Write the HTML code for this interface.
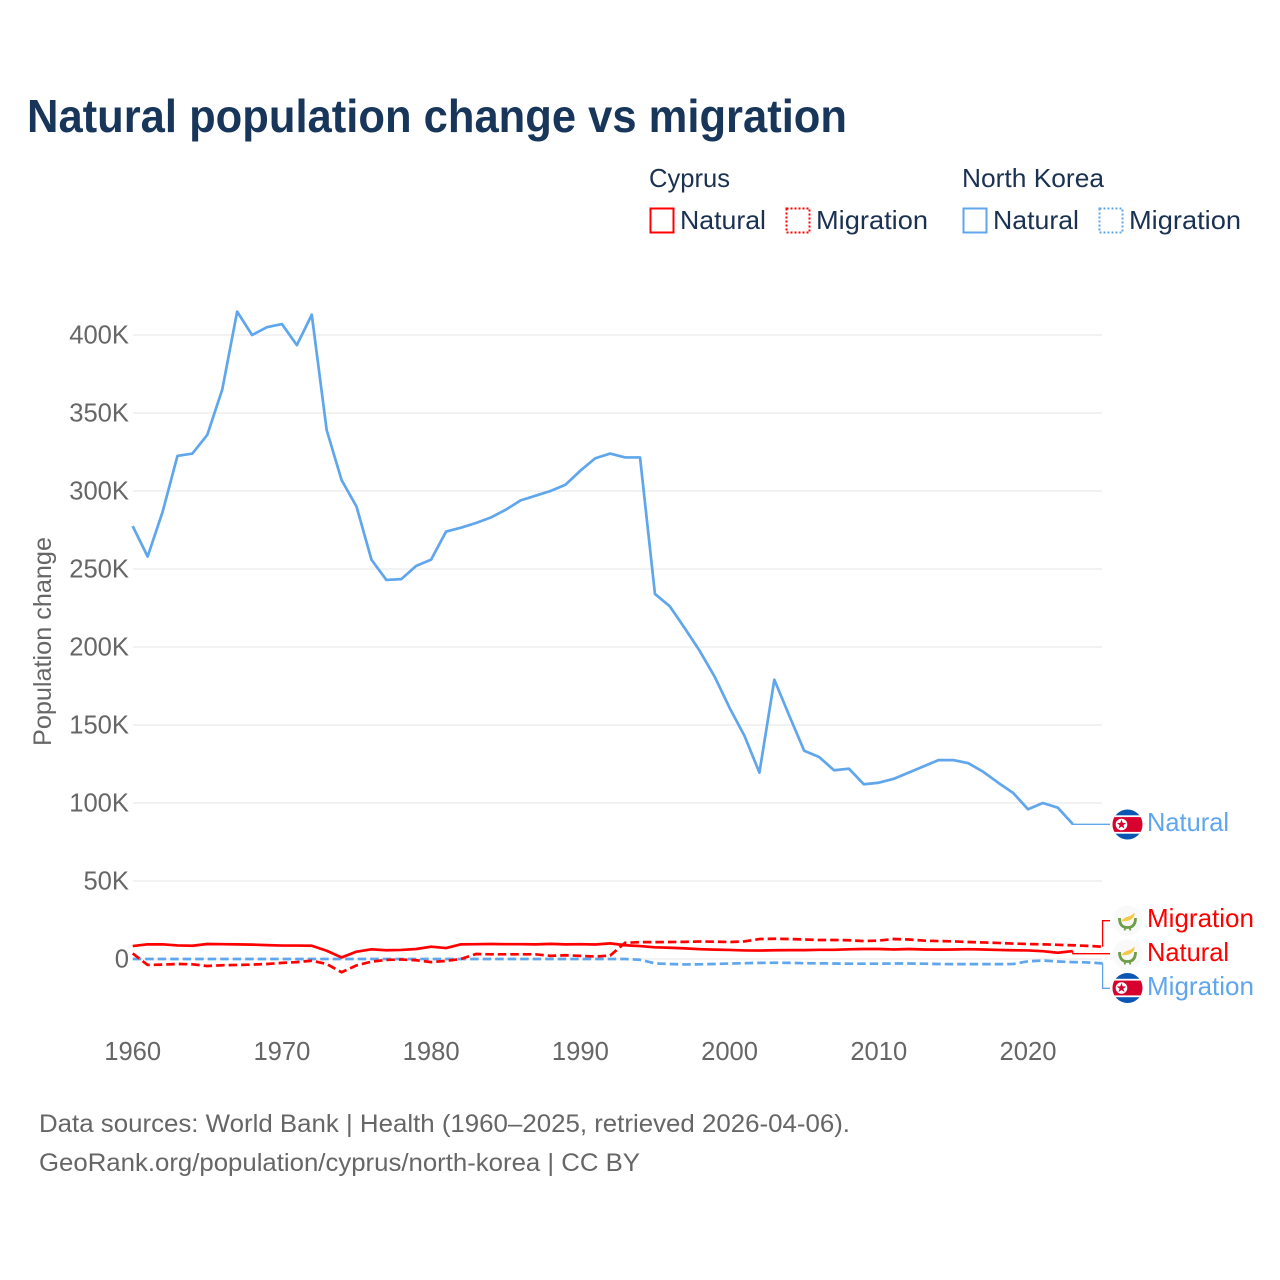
<!DOCTYPE html>
<html lang="en">
<head>
<meta charset="utf-8">
<title>Natural population change vs migration</title>
<style>
html,body{margin:0;padding:0;background:#fff}
svg{display:block}
text{font-family:"Liberation Sans",sans-serif}
</style>
</head>
<body>
<svg id="chart" xmlns="http://www.w3.org/2000/svg" width="1280" height="1280" viewBox="0 0 1280 1280">
  <rect width="1280" height="1280" fill="#fff"/>
  <text x="27" y="132" font-size="46" font-weight="700" fill="#17365a" textLength="820" lengthAdjust="spacingAndGlyphs">Natural population change vs migration</text>

  <g font-size="26" fill="#1b3152">
    <text x="649" y="187" textLength="81" lengthAdjust="spacingAndGlyphs">Cyprus</text>
    <text x="962" y="187" textLength="142" lengthAdjust="spacingAndGlyphs">North Korea</text>
    <rect x="650.5" y="208.5" width="23" height="24" fill="none" stroke="#ff0000" stroke-width="2"/>
    <text x="680" y="229" textLength="86" lengthAdjust="spacingAndGlyphs">Natural</text>
    <rect x="786.5" y="208.5" width="23" height="24" fill="none" stroke="#ff0000" stroke-width="2" stroke-dasharray="2,2"/>
    <text x="816" y="229" textLength="112" lengthAdjust="spacingAndGlyphs">Migration</text>
    <rect x="963.5" y="208.5" width="23" height="24" fill="none" stroke="#5fa6ec" stroke-width="2"/>
    <text x="993" y="229" textLength="86" lengthAdjust="spacingAndGlyphs">Natural</text>
    <rect x="1099.5" y="208.5" width="23" height="24" fill="none" stroke="#5fa6ec" stroke-width="2" stroke-dasharray="2,2"/>
    <text x="1129" y="229" textLength="112" lengthAdjust="spacingAndGlyphs">Migration</text>
  </g>

  <g id="grid"></g>
  <g id="yticks" font-size="25.6" fill="#666" text-anchor="end"></g>
  <g id="xticks" font-size="25.6" fill="#666" text-anchor="middle"></g>
  <text transform="translate(51,746) rotate(-90)" font-size="25" fill="#666" textLength="209" lengthAdjust="spacingAndGlyphs">Population change</text>

  <g id="leaders" fill="none" stroke-width="1.3"></g>
  <g id="series" fill="none" stroke-linejoin="round"></g>

  <defs>
    <clipPath id="flag-clip"><circle cx="0" cy="0" r="15"/></clipPath>
    <g id="flag-kp">
      <g clip-path="url(#flag-clip)">
        <rect x="-16" y="-16" width="32" height="32" fill="#0b55b5"/>
        <rect x="-16" y="-9.2" width="32" height="18.4" fill="#fff"/>
        <rect x="-16" y="-7.4" width="32" height="14.8" fill="#d8002c"/>
      </g>
      <circle cx="-6" cy="0" r="5.8" fill="#fff"/>
      <polygon points="-6,-5 -4.8,-1.6 -1.3,-1.5 -4.1,0.6 -3.1,4 -6,2 -8.9,4 -7.9,0.6 -10.7,-1.5 -7.2,-1.6" fill="#d8002c"/>
    </g>
    <g id="flag-cy">
      <circle cx="0" cy="0" r="15" fill="#f9f9f9"/>
      <path d="M-6,0.5 Q-4,-3 1,-4 Q5,-5.5 7,-8 Q7.5,-3.5 3.5,-1 Q-1,1.5 -6,0.5Z" fill="#f5c74a"/>
      <path d="M-8,-2.5 Q-8,7 0,7 Q8,7 8,-2.5" fill="none" stroke="#6f9e4a" stroke-width="2.8"/>
      <path d="M-2,7 L-3,10 M2,7 L3,10" stroke="#6f9e4a" stroke-width="1.8"/>
    </g>
  </defs>

  <g font-size="26">
    <use href="#flag-kp" x="1127.5" y="824.5"/>
    <text x="1147" y="831" fill="#5fa6ec" textLength="82" lengthAdjust="spacingAndGlyphs">Natural</text>
    <use href="#flag-cy" x="1127.5" y="920.5"/>
    <text x="1147" y="927" fill="#ff0000" textLength="107" lengthAdjust="spacingAndGlyphs">Migration</text>
    <use href="#flag-cy" x="1127.5" y="954.5"/>
    <text x="1147" y="961" fill="#ff0000" textLength="82" lengthAdjust="spacingAndGlyphs">Natural</text>
    <use href="#flag-kp" x="1127.5" y="988"/>
    <text x="1147" y="995" fill="#5fa6ec" textLength="107" lengthAdjust="spacingAndGlyphs">Migration</text>
  </g>

  <text x="39" y="1132" font-size="25" fill="#666" textLength="811" lengthAdjust="spacingAndGlyphs">Data sources: World Bank | Health (1960–2025, retrieved 2026-04-06).</text>
  <text x="39" y="1171" font-size="25" fill="#666" textLength="601" lengthAdjust="spacingAndGlyphs">GeoRank.org/population/cyprus/north-korea | CC BY</text>
</svg>
<script>
const startYear = 1960;
const yTickValues = [0, 50, 100, 150, 200, 250, 300, 350, 400];
const xTickValues = [1960, 1970, 1980, 1990, 2000, 2010, 2020];
// Values in thousands, one per year from 1960.
const northKoreaNatural = [277.5,258,286.5,322.5,324,336,365,415,400,405,407,393.5,413,339,307,290,256,243,243.5,252,256,274,276.5,279.5,283,288,294,297,300,304,313,321,324,321.5,321.5,234,226,212,197.5,181,161,143,119.5,179,156,133.5,129.5,121,122,112,113,115.5,119.5,123.5,127.5,127.5,125.5,120,113,106.5,96,100,97,86.5];
const northKoreaMigration = [0,0,0,0,0,0,0,0,0,0,0,0,0,0,0,0,0,0,0,0,0,0,0,0,0,0,0,0,0,0,0,0,0,0,-0.5,-2.8,-3.2,-3.5,-3.4,-3.2,-2.9,-2.7,-2.5,-2.4,-2.5,-2.7,-2.8,-2.9,-3,-3,-3,-2.9,-2.9,-3,-3.2,-3.3,-3.3,-3.3,-3.3,-3.2,-1.5,-1,-1.6,-2,-2.2,-2.8];
const cyprusNatural = [8.3,9.4,9.4,8.7,8.5,9.6,9.5,9.4,9.2,8.9,8.6,8.6,8.5,5.3,1,4.7,6.2,5.6,5.8,6.4,7.9,7,9.4,9.5,9.6,9.5,9.5,9.4,9.7,9.4,9.5,9.3,10,8.8,8.3,7.5,7.2,6.8,6.3,6,5.8,5.5,5.4,5.6,5.7,5.7,5.9,5.9,6.2,6.4,6.4,6.1,6.4,6.1,6,6.1,6.3,6.1,5.8,5.6,5.5,5,4,5.1];
const cyprusMigration = [3.6,-3.8,-3.6,-3.2,-3.4,-4.5,-4,-3.8,-3.6,-3.2,-2.5,-2,-1.1,-3.2,-8.5,-4.1,-1.7,-0.6,-0.3,-0.8,-2,-1.2,0,3.2,3,3,3,3,2,2.4,2,1.6,2.2,10.4,10.8,10.8,10.9,11,11.2,11.1,10.9,11.3,12.8,13,12.8,12.5,12.2,12.2,12,11.5,11.8,12.8,12.5,11.8,11.5,11.3,10.9,10.6,10.3,9.9,9.6,9.4,9.1,8.8,8.4,7.9];

const svgNS = 'http://www.w3.org/2000/svg';
const blue = '#5fa6ec';
const red = '#ff0000';
const xScale = function (year) { return 132.7 + (year - startYear) * (1028 - 132.7) / 60; };
const yScale = function (value) { return 959 - value * 1.56; };
const xAt = function (i) { return xScale(startYear + i); };
const linePath = function (values) {
  return values.map(function (v, i) {
    return (i ? 'L' : 'M') + xAt(i).toFixed(2) + ',' + yScale(v).toFixed(2);
  }).join(' ');
};

const gridGroup = document.getElementById('grid');
const yTickGroup = document.getElementById('yticks');
yTickValues.forEach(function (v) {
  const line = document.createElementNS(svgNS, 'line');
  
  
  line.setAttribute('x1', 133);
  line.setAttribute('x2', 1102);
  line.setAttribute('y1', yScale(v));
  line.setAttribute('y2', yScale(v));
  line.setAttribute('stroke', '#e9e9e9');
  line.setAttribute('stroke-width', 1.3);
  gridGroup.appendChild(line);
  const label = document.createElementNS(svgNS, 'text');
  
  
  label.setAttribute('x', 129);
  label.setAttribute('y', yScale(v) + 8.5);
  label.textContent = v === 0 ? '0' : v + 'K';
  yTickGroup.appendChild(label);
});

const xTickGroup = document.getElementById('xticks');
xTickValues.forEach(function (year) {
  const label = document.createElementNS(svgNS, 'text');
  
  
  label.setAttribute('x', xScale(year));
  label.setAttribute('y', 1060);
  label.textContent = year;
  xTickGroup.appendChild(label);
});

const seriesGroup = document.getElementById('series');
const addSeries = function (name, values, color, dash) {
  const path = document.createElementNS(svgNS, 'path');
  
  
  path.setAttribute('d', linePath(values));
  path.setAttribute('stroke', color);
  path.setAttribute('stroke-width', 2.7);
  if (dash) { path.setAttribute('stroke-dasharray', dash); }
  seriesGroup.appendChild(path);
};
addSeries('line-north-korea-migration', northKoreaMigration, blue, '8.5,4');
addSeries('line-north-korea-natural', northKoreaNatural, blue, null);
addSeries('line-cyprus-migration', cyprusMigration, red, '8.5,4');
addSeries('line-cyprus-natural', cyprusNatural, red, null);

const leaderGroup = document.getElementById('leaders');
const addLeader = function (name, values, color, labelY) {
  const i = values.length - 1;
  const endX = xAt(i);
  const endY = yScale(values[i]);
  const bendX = Math.max(endX, 1102);
  const leader = document.createElementNS(svgNS, 'path');
  
  
  leader.setAttribute('d', 'M' + endX + ',' + endY + ' L' + bendX + ',' + endY + ' L' + bendX + ',' + labelY + ' L1110,' + labelY);
  leader.setAttribute('stroke', color);
  leaderGroup.appendChild(leader);
};
const addFlatLeader = function (name, values, color, labelY) {
  const i = values.length - 1;
  const endX = xAt(i);
  const endY = yScale(values[i]);
  const leader = document.createElementNS(svgNS, 'path');
  
  
  leader.setAttribute('d', 'M' + endX + ',' + endY + ' L' + endX + ',' + labelY + ' L1110,' + labelY);
  leader.setAttribute('stroke', color);
  leaderGroup.appendChild(leader);
};
addFlatLeader('leader-north-korea-natural', northKoreaNatural, blue, 824.3);
addLeader('leader-cyprus-migration', cyprusMigration, red, 920.7);
addFlatLeader('leader-cyprus-natural', cyprusNatural, red, 953.7);
addLeader('leader-north-korea-migration', northKoreaMigration, blue, 988.3);
</script>
</body>
</html>
